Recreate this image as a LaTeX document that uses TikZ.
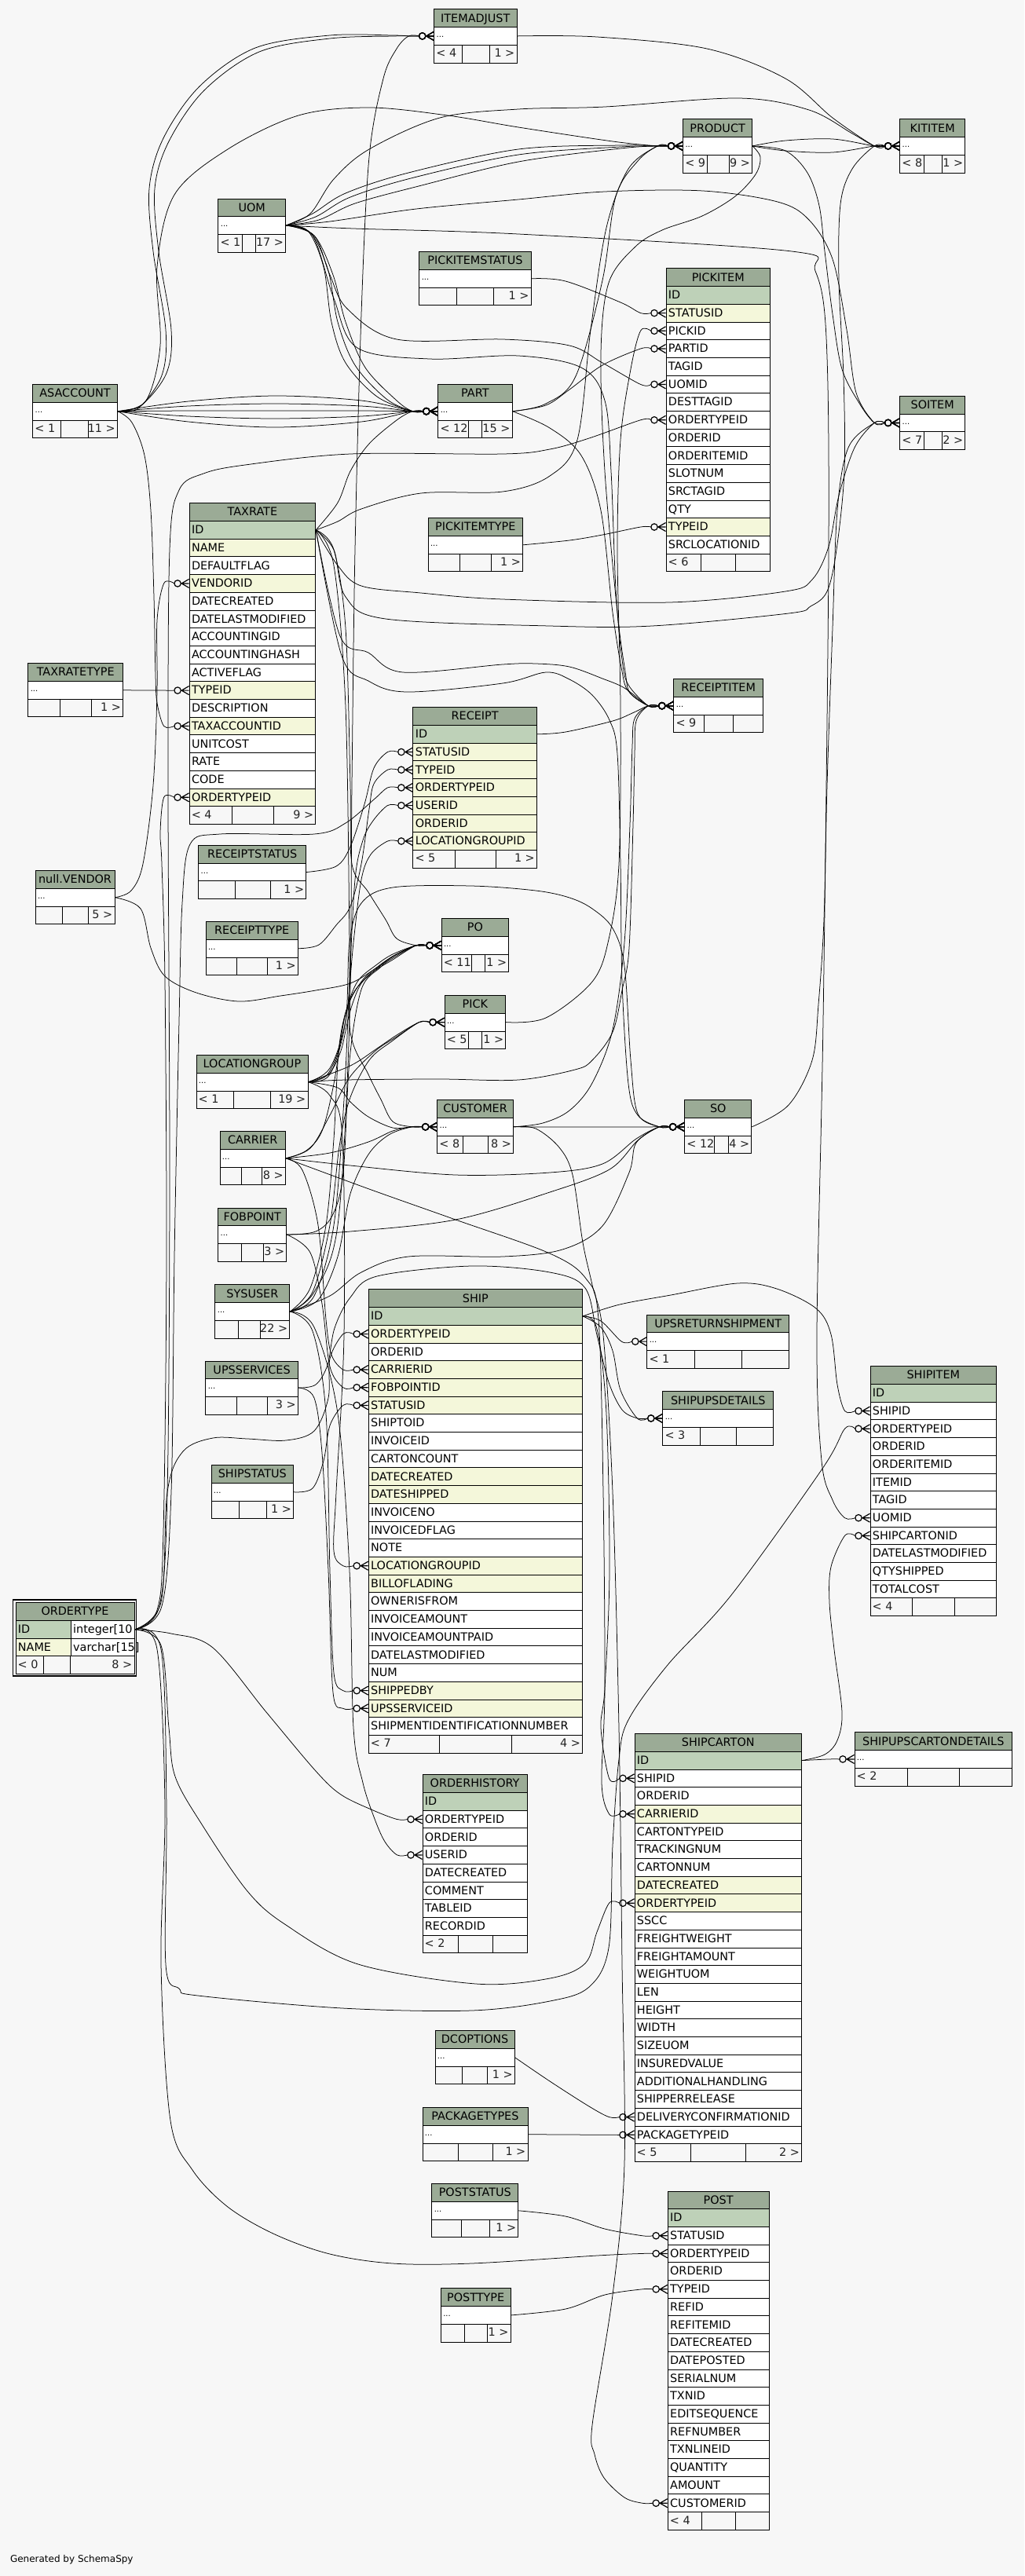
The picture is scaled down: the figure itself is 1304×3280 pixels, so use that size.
\documentclass[tikz,border=0pt]{standalone}
\usepackage{fontspec}
\setmainfont{DejaVu Sans}
\definecolor{bgc}{HTML}{F7F7F7}
\definecolor{hdc}{HTML}{9BAB96}
\definecolor{pkc}{HTML}{BED1B8}
\definecolor{ixc}{HTML}{F4F7DA}
\definecolor{ftc}{HTML}{222222}
\pgfdeclarelayer{bgl}
\pgfdeclarelayer{edl}
\pgfsetlayers{bgl,edl,main}
\newcommand\rf{\fontsize{14.4}{16}\selectfont}
\newcommand\dts{\raisebox{3pt}{\fontsize{10}{10}\selectfont...}}
\tikzset{
  cellbox/.style={draw=black, line width=0.9pt, inner xsep=3pt, inner ysep=0pt, minimum height=22.7pt, text height=11.6pt, text depth=1.9pt, anchor=north west, align=left, font=\rf},
  hdrbox/.style={cellbox, fill=hdc, align=center},
  edge/.style={draw=black, line width=0.75pt},
  mk/.style={draw=black, line width=1.2pt},
}
\newcommand\foot[8]{%
  \node[draw=black, line width=0.9pt, fill=bgc, anchor=north west, minimum width=#4pt, minimum height=22.7pt, inner sep=0pt] (#1-foot) at (#2,#3) {};
  \draw[line width=0.9pt] (#5,#3) -- (#5,#3+22.7) (#6,#3) -- (#6,#3+22.7);
  \node[anchor=base west, font=\rf, text=ftc, inner sep=0pt] (#1-fl) at (#2+3,#3+16) {#7};
  \node[anchor=base east, font=\rf, text=ftc, inner sep=0pt] (#1-fr) at (#2+#4-2,#3+16) {#8};
}
\newcommand\tbl[6]{%
  \pgfmathsetmacro\tw{#4-6}%
  \node[hdrbox, text width=\tw pt] (#1) at (#2,#3) {#5};%
  \foreach \rn/\rc [count=\ri] in {#6}{%
    \node[cellbox, fill=\rc, text width=\tw pt] (#1-\rn) at (#2,#3+\ri*22.7) {\rn};%
  }%
}
\newcommand\stbl[9]{%
  \pgfmathsetmacro\tw{#4-6}%
  \node[hdrbox, text width=\tw pt] (#1) at (#2,#3) {#5};%
  \node[cellbox, fill=white, text width=\tw pt] (#1-dots) at (#2,#3+22.7) {\dts};%
  \foot{#1}{#2}{#3+45.4}{#4}{#6}{#7}{#8}{#9}%
}
\newcommand\crow[1]{%
  \draw[mk] ([xshift=-14.5pt]#1) circle[radius=4.2pt];
  \draw[mk] ([xshift=-9.5pt]#1) -- ([yshift=5.5pt]#1) ([xshift=-9.5pt]#1) -- (#1) ([xshift=-9.5pt]#1) -- ([yshift=-5.5pt]#1);}
\newcommand\rel[3]{%
  \draw[edge] plot[smooth, tension=0.55] coordinates {(#1) #2 ([xshift=-32pt]#3) ([xshift=-18.7pt]#3)};
  \crow{#3}}
\begin{document}
\begin{tikzpicture}[x=1pt,y=-1pt]
\begin{pgfonlayer}{bgl}
\fill[bgc] (0,0) rectangle (1304,3280);
\end{pgfonlayer}
\useasboundingbox (0,0) rectangle (1304,3280);

% ---------------- tables ----------------
\stbl{ITEMADJUST}{552.2}{11.4}{105.3}{ITEMADJUST}{588.4}{623.3}{< 4}{1 >}
\stbl{PRODUCT}{869.1}{151.4}{88.1}{PRODUCT}{900.5}{928.4}{< 9}{9 >}
\stbl{KITITEM}{1145.2}{151.4}{83.1}{KITITEM}{1176.2}{1199.5}{< 8}{1 >}
\stbl{UOM}{277.4}{252.5}{85.8}{UOM}{308.5}{325.4}{< 1}{17 >}
\stbl{PICKITEMSTATUS}{533.3}{320.3}{142.3}{PICKITEMSTATUS}{581.3}{628.4}{}{1 >}
\stbl{ASACCOUNT}{41.2}{489.2}{107.8}{ASACCOUNT}{77.9}{112.4}{< 1}{11 >}
\stbl{PART}{557.3}{489.2}{94.3}{PART}{596.8}{613.7}{< 12}{15 >}
\stbl{SOITEM}{1145.2}{503.9}{83.1}{SOITEM}{1176.2}{1199.5}{< 7}{2 >}
\stbl{PICKITEMTYPE}{544.6}{659.3}{120.5}{PICKITEMTYPE}{585.2}{625.4}{}{1 >}
\stbl{TAXRATETYPE}{35.3}{844.3}{120.9}{TAXRATETYPE}{76.3}{116.5}{}{1 >}
\stbl{RECEIPTITEM}{857.3}{864.2}{113.9}{RECEIPTITEM}{896.6}{933.1}{< 9}{}
\stbl{RECEIPTSTATUS}{252.2}{1076}{137.1}{RECEIPTSTATUS}{299.5}{344.6}{}{1 >}
\stbl{VENDOR}{44.6}{1108.2}{100.9}{null.VENDOR}{79.5}{112.5}{}{5 >}
\stbl{RECEIPTTYPE}{261.6}{1173.2}{117.4}{RECEIPTTYPE}{301.3}{340.6}{}{1 >}
\stbl{PO}{561.6}{1169.3}{85.7}{PO}{600.9}{617.4}{< 11}{1 >}
\stbl{PICK}{565.6}{1267.1}{77.7}{PICK}{596}{613.4}{< 5}{1 >}
\stbl{LOCATIONGROUP}{249.5}{1343.2}{142}{LOCATIONGROUP}{297.3}{344.6}{< 1}{19 >}
\stbl{CUSTOMER}{556.2}{1400.3}{96.9}{CUSTOMER}{589.7}{621.4}{< 8}{8 >}
\stbl{SO}{871.2}{1400.3}{85.2}{SO}{909.3}{927.6}{< 12}{4 >}
\stbl{CARRIER}{279.5}{1440.3}{83.4}{CARRIER}{307.6}{333.5}{}{8 >}
\stbl{FOBPOINT}{277.2}{1537.5}{87.1}{FOBPOINT}{307.6}{335.3}{}{3 >}
\stbl{SYSUSER}{273.4}{1635.4}{95}{SYSUSER}{303.4}{331.5}{}{22 >}
\stbl{UPSSERVICES}{261.3}{1732.5}{117.7}{UPSSERVICES}{301.5}{340.7}{}{3 >}
\stbl{SHIPSTATUS}{268.5}{1865.3}{104.7}{SHIPSTATUS}{304.4}{339.3}{}{1 >}
\stbl{UPSRETURNSHIPMENT}{823.3}{1673.6}{181}{UPSRETURNSHIPMENT}{884.5}{944.2}{< 1}{}
\stbl{SHIPUPSDETAILS}{843.3}{1771.4}{141}{SHIPUPSDETAILS}{891.4}{937.7}{< 3}{}
\stbl{SHIPUPSCARTONDETAILS}{1087.5}{2205.4}{200.7}{SHIPUPSCARTONDETAILS}{1155.3}{1221.6}{< 2}{}
\stbl{DCOPTIONS}{553.5}{2585.3}{101.3}{DCOPTIONS}{588.4}{620.9}{}{1 >}
\stbl{PACKAGETYPES}{537.5}{2683.2}{134}{PACKAGETYPES}{583.3}{627.7}{}{1 >}
\stbl{POSTSTATUS}{549.3}{2780.3}{110.1}{POSTSTATUS}{587.4}{623.7}{}{1 >}
\stbl{POSTTYPE}{560.8}{2913.4}{88.8}{POSTTYPE}{591.4}{620.2}{}{1 >}

\tbl{PICKITEM}{847.5}{341.4}{132.6}{PICKITEM}{ID/pkc,STATUSID/ixc,PICKID/white,PARTID/white,TAGID/white,UOMID/white,DESTTAGID/white,ORDERTYPEID/white,ORDERID/white,ORDERITEMID/white,SLOTNUM/white,SRCTAGID/white,QTY/white,TYPEID/ixc,SRCLOCATIONID/white}
\foot{PICKITEM}{847.5}{341.4+16*22.7}{132.6}{892.4}{936.5}{< 6}{}

\tbl{TAXRATE}{240.6}{640.3}{160.7}{TAXRATE}{ID/pkc,NAME/ixc,DEFAULTFLAG/white,VENDORID/ixc,DATECREATED/white,DATELASTMODIFIED/white,ACCOUNTINGID/white,ACCOUNTINGHASH/white,ACTIVEFLAG/white,TYPEID/ixc,DESCRIPTION/white,TAXACCOUNTID/ixc,UNITCOST/white,RATE/white,CODE/white,ORDERTYPEID/ixc}
\foot{TAXRATE}{240.6}{640.3+17*22.7}{160.7}{295.5}{348.6}{< 4}{9 >}

\tbl{RECEIPT}{525.4}{900.3}{157.6}{RECEIPT}{ID/pkc,STATUSID/ixc,TYPEID/ixc,ORDERTYPEID/ixc,USERID/ixc,ORDERID/ixc,LOCATIONGROUPID/ixc}
\foot{RECEIPT}{525.4}{900.3+8*22.7}{157.6}{579}{631.2}{< 5}{1 >}

\tbl{SHIP}{468.7}{1641.4}{272.4}{SHIP}{ID/pkc,ORDERTYPEID/ixc,ORDERID/white,CARRIERID/ixc,FOBPOINTID/ixc,STATUSID/ixc,SHIPTOID/white,INVOICEID/white,CARTONCOUNT/white,DATECREATED/ixc,DATESHIPPED/ixc,INVOICENO/white,INVOICEDFLAG/white,NOTE/white,LOCATIONGROUPID/ixc,BILLOFLADING/ixc,OWNERISFROM/white,INVOICEAMOUNT/white,INVOICEAMOUNTPAID/white,DATELASTMODIFIED/white,NUM/white,SHIPPEDBY/ixc,UPSSERVICEID/ixc,SHIPMENTIDENTIFICATIONNUMBER/white}
\foot{SHIP}{468.7}{1641.4+25*22.7}{272.4}{559.8}{651.4}{< 7}{4 >}

\tbl{SHIPITEM}{1107.5}{1739.3}{160.7}{SHIPITEM}{ID/pkc,SHIPID/white,ORDERTYPEID/white,ORDERID/white,ORDERITEMID/white,ITEMID/white,TAGID/white,UOMID/white,SHIPCARTONID/white,DATELASTMODIFIED/white,QTYSHIPPED/white,TOTALCOST/white}
\foot{SHIPITEM}{1107.5}{1739.3+13*22.7}{160.7}{1161.1}{1215.4}{< 4}{}

\tbl{ORDERHISTORY}{537.5}{2259.3}{133.3}{ORDERHISTORY}{ID/pkc,ORDERTYPEID/white,ORDERID/white,USERID/white,DATECREATED/white,COMMENT/white,TABLEID/white,RECORDID/white}
\foot{ORDERHISTORY}{537.5}{2259.3+9*22.7}{133.3}{583.6}{627.2}{< 2}{}

\tbl{SHIPCARTON}{807.5}{2207.1}{212.6}{SHIPCARTON}{ID/pkc,SHIPID/white,ORDERID/white,CARRIERID/ixc,CARTONTYPEID/white,TRACKINGNUM/white,CARTONNUM/white,DATECREATED/ixc,ORDERTYPEID/ixc,SSCC/white,FREIGHTWEIGHT/white,FREIGHTAMOUNT/white,WEIGHTUOM/white,LEN/white,HEIGHT/white,WIDTH/white,SIZEUOM/white,INSUREDVALUE/white,ADDITIONALHANDLING/white,SHIPPERRELEASE/white,DELIVERYCONFIRMATIONID/white,PACKAGETYPEID/white}
\foot{SHIPCARTON}{807.5}{2207.1+23*22.7}{212.6}{879.6}{949.4}{< 5}{2 >}

\tbl{POST}{849.7}{2789.5}{129.1}{POST}{ID/pkc,STATUSID/white,ORDERTYPEID/white,ORDERID/white,TYPEID/white,REFID/white,REFITEMID/white,DATECREATED/white,DATEPOSTED/white,SERIALNUM/white,TXNID/white,EDITSEQUENCE/white,REFNUMBER/white,TXNLINEID/white,QUANTITY/white,AMOUNT/white,CUSTOMERID/white}
\foot{POST}{849.7}{2789.5+18*22.7}{129.1}{893.5}{936.7}{< 4}{}

% ORDERTYPE (focus table, double border)
\draw[line width=1.8pt] (16.5,2037.3) rectangle (173.5,2134.2);
\node[hdrbox, text width=145pt] (OT) at (19.5,2040.3) {ORDERTYPE};
\node[cellbox, fill=pkc, text width=64.2pt] (OT-ID) at (19.5,2063) {ID};
\node[cellbox, fill=white, text width=74.8pt] (OT-IDT) at (89.7,2063) {integer[10};
\node[cellbox, fill=ixc, text width=64.2pt] (OT-NAME) at (19.5,2085.7) {NAME};
\node[cellbox, fill=white, text width=74.8pt] (OT-NAMET) at (89.7,2085.7) {varchar[15]};
\foot{OT}{19.5}{2108.4}{151}{55.7}{89.7}{< 0}{8 >}

\node[anchor=base west, font=\fontsize{12}{13}\selectfont, inner sep=0pt] (gen) at (12.8,3262) {Generated by SchemaSpy};

% ---------------- relationships ----------------
\begin{pgfonlayer}{edl}
% ITEMADJUST / KITITEM
\rel{ITEMADJUST-dots.east}{(760,47) (900,62) (1000,100) (1060,150)}{KITITEM-dots.west}
\rel{ASACCOUNT-dots.east}{(180,516) (212,475) (218,420) (202,320) (197,240) (215,180) (260,115) (330,66) (420,49) (500,46)}{ITEMADJUST-dots.west}
\rel{ASACCOUNT-dots.east}{(176,520) (206,478) (211,420) (195,320) (190,240) (208,176) (254,110) (325,61) (420,45) (500,45)}{ITEMADJUST-dots.west}
\rel{SYSUSER-dots.east}{(400,1645) (430,1560) (445,1300) (448,1000) (452,700) (460,400) (470,200) (488,100) (505,62)}{ITEMADJUST-dots.west}
% PRODUCT
\rel{ASACCOUNT-dots.east}{(186,510) (204,440) (200,340) (222,248) (290,190) (380,147) (470,137) (570,147) (660,162) (780,180)}{PRODUCT-dots.west}
\rel{UOM-dots.east}{(398,272) (440,246) (520,220) (660,190) (790,185)}{PRODUCT-dots.west}
\rel{UOM-dots.east}{(402,276) (446,251) (527,226) (660,197) (790,187)}{PRODUCT-dots.west}
\rel{UOM-dots.east}{(406,280) (452,259) (533,237) (660,206) (790,189)}{PRODUCT-dots.west}
\rel{PART-dots.east}{(695,514) (733,479) (767,357) (784,250) (812,205)}{PRODUCT-dots.west}
\rel{TAXRATE-ID.east}{(430,664) (460,648) (536,628) (640,626) (700,606) (735,560) (752,420) (772,290) (800,215)}{PRODUCT-dots.west}
% KITITEM
\rel{UOM-dots.east}{(395,272) (425,228) (470,190) (560,150) (660,139) (770,136) (940,125) (1030,140) (1085,170)}{KITITEM-dots.west}
\rel{PRODUCT-dots.east}{(1000,179) (1060,177)}{KITITEM-dots.west}
\rel{PRODUCT-dots.east}{(1000,192) (1060,194)}{KITITEM-dots.west}
\rel{TAXRATE-ID.east}{(425,700) (440,760) (491,788) (700,797) (830,797) (1004,781) (1032,772) (1053,753) (1065,700) (1075,600) (1074,480) (1068,357) (1070,260) (1085,215)}{KITITEM-dots.west}
% PICKITEM
\rel{PICKITEMSTATUS-dots.east}{(720,358) (790,385)}{PICKITEM-STATUSID.west}
\rel{PICK-dots.east}{(695,1296) (754,1250) (775,1196) (788,1100) (790,900) (786,700) (790,560) (803,470)}{PICKITEM-PICKID.west}
\rel{PART-dots.east}{(695,516) (725,496) (767,465)}{PICKITEM-PARTID.west}
\rel{UOM-dots.east}{(400,300) (420,350) (442,393) (505,432) (640,432) (725,440) (767,462)}{PICKITEM-UOMID.west}
\rel{OT-IDT.east}{(203,2045) (213,1900) (216,1500) (214,1000) (216,700) (228,624) (259,603) (312,592) (446,578) (640,578) (700,572) (750,558)}{PICKITEM-ORDERTYPEID.west}
\rel{PICKITEMTYPE-dots.east}{(725,688) (767,681)}{PICKITEM-TYPEID.west}
% SOITEM
\rel{UOM-dots.east}{(420,282) (530,266) (660,254) (770,244) (895,243) (990,257) (1030,280) (1060,330) (1078,420) (1090,500)}{SOITEM-dots.west}
\rel{PRODUCT-dots.east}{(1000,192) (1028,220) (1043,262) (1050,320) (1060,400) (1072,470) (1095,515)}{SOITEM-dots.west}
\rel{TAXRATE-ID.east}{(430,720) (460,746) (536,755) (640,763) (852,767) (1000,753) (1034,738) (1055,696) (1068,631) (1088,570)}{SOITEM-dots.west}
\rel{SO-dots.east}{(1004,1407) (1034,1350) (1042,1279) (1049,1171) (1053,1000) (1060,800) (1066,650) (1080,570)}{SOITEM-dots.west}
% PART
\rel{ASACCOUNT-dots.east}{(240,511) (350,504) (460,510)}{PART-dots.west}
\rel{ASACCOUNT-dots.east}{(240,517) (350,514) (460,517)}{PART-dots.west}
\rel{ASACCOUNT-dots.east}{(240,523) (350,523) (460,523)}{PART-dots.west}
\rel{ASACCOUNT-dots.east}{(240,530) (350,533) (460,530)}{PART-dots.west}
\rel{ASACCOUNT-dots.east}{(240,537) (350,544) (460,537)}{PART-dots.west}
\rel{UOM-dots.east}{(392,294) (412,340) (422,410) (440,462) (480,505)}{PART-dots.west}
\rel{UOM-dots.east}{(396,297) (418,345) (430,410) (452,465) (492,508)}{PART-dots.west}
\rel{UOM-dots.east}{(400,300) (424,350) (440,410) (465,468) (505,510)}{PART-dots.west}
\rel{TAXRATE-ID.east}{(430,640) (446,600) (470,565) (505,535)}{PART-dots.west}
% TAXRATE
\rel{ASACCOUNT-dots.east}{(168,538) (184,580) (192,650) (196,760) (198,860) (200,895)}{TAXRATE-TAXACCOUNTID.west}
\rel{VENDOR-dots.east}{(167,1134) (182,1100) (195,1000) (200,880) (200,790)}{TAXRATE-VENDORID.west}
\rel{TAXRATETYPE-dots.east}{}{TAXRATE-TYPEID.west}
\rel{OT-IDT.east}{(200,2050) (208,1950) (212,1600) (210,1250) (206,1100) (204,1060)}{TAXRATE-ORDERTYPEID.west}
% RECEIPT
\rel{RECEIPTSTATUS-dots.east}{(428,1103) (446,1078) (464,1024) (476,978)}{RECEIPT-STATUSID.west}
\rel{RECEIPTTYPE-dots.east}{(406,1203) (428,1178) (446,1154) (460,1100) (470,1030) (476,998)}{RECEIPT-TYPEID.west}
\rel{OT-IDT.east}{(206,2045) (218,1900) (222,1600) (228,1300) (232,1150) (242,1075) (280,1062) (400,1062) (440,1048) (476,1018)}{RECEIPT-ORDERTYPEID.west}
\rel{SYSUSER-dots.east}{(400,1650) (425,1560) (438,1400) (445,1250) (452,1120) (462,1070) (475,1045)}{RECEIPT-USERID.west}
\rel{LOCATIONGROUP-dots.east}{(420,1360) (440,1300) (450,1200) (460,1120) (472,1088)}{RECEIPT-LOCATIONGROUPID.west}
% RECEIPTITEM
\rel{RECEIPT-ID.east}{(720,932) (780,918) (805,908)}{RECEIPTITEM-dots.west}
\rel{UOM-dots.east}{(398,300) (425,380) (455,443) (547,457) (660,453) (740,468) (770,510) (778,600) (784,750) (792,840) (800,872)}{RECEIPTITEM-dots.west}
\rel{TAXRATE-ID.east}{(433,810) (469,831) (513,856) (640,846) (682,845) (725,849) (767,864) (795,876)}{RECEIPTITEM-dots.west}
\rel{PART-dots.east}{(700,545) (740,580) (765,650) (780,780) (792,855) (800,880)}{RECEIPTITEM-dots.west}
\rel{PRODUCT-dots.east}{(968,200) (962,222) (936,250) (894,275) (843,293) (809,314) (775,360) (765,450) (770,600) (786,780) (796,855) (802,882)}{RECEIPTITEM-dots.west}
\rel{CUSTOMER-dots.east}{(691,1430) (725,1414) (754,1379) (780,1311) (795,1200) (802,1050) (805,950) (808,915)}{RECEIPTITEM-dots.west}
\rel{LOCATIONGROUP-dots.east}{(440,1375) (560,1374) (660,1375) (732,1362) (754,1350) (780,1314) (792,1261) (801,1207) (806,1050) (808,960) (810,918)}{RECEIPTITEM-dots.west}
% PO
\rel{TAXRATE-ID.east}{(425,700) (440,800) (446,1000) (448,1100) (469,1136) (491,1171) (505,1195)}{PO-dots.west}
\rel{VENDOR-dots.east}{(179,1157) (192,1207) (210,1243) (250,1264) (304,1275) (357,1268) (402,1261) (446,1252) (480,1232) (505,1215)}{PO-dots.west}
\rel{LOCATIONGROUP-dots.east}{(415,1370) (430,1340) (440,1290) (455,1250) (480,1228) (500,1215)}{PO-dots.west}
\rel{LOCATIONGROUP-dots.east}{(418,1368) (434,1338) (445,1290) (460,1252) (484,1230) (501,1217)}{PO-dots.west}
\rel{CARRIER-dots.east}{(390,1465) (410,1440) (425,1380) (440,1290) (460,1250) (482,1230) (500,1218)}{PO-dots.west}
\rel{FOBPOINT-dots.east}{(402,1568) (424,1546) (437,1493) (445,1350) (460,1260) (484,1232) (500,1220)}{PO-dots.west}
\rel{SYSUSER-dots.east}{(395,1640) (415,1560) (425,1450) (432,1330) (447,1270) (472,1240) (500,1222)}{PO-dots.west}
% PICK
\rel{LOCATIONGROUP-dots.east}{(446,1357) (480,1335) (505,1318)}{PICK-dots.west}
\rel{SYSUSER-dots.east}{(398,1645) (420,1560) (432,1460) (445,1400) (470,1350) (500,1325)}{PICK-dots.west}
\rel{CARRIER-dots.east}{(395,1462) (420,1420) (445,1372) (478,1338) (505,1320)}{PICK-dots.west}
% CUSTOMER
\rel{TAXRATE-ID.east}{(425,720) (440,900) (445,1200) (446,1314) (469,1368) (485,1400) (500,1428)}{CUSTOMER-dots.west}
\rel{CARRIER-dots.east}{(420,1468) (469,1454) (500,1440)}{CUSTOMER-dots.west}
\rel{LOCATIONGROUP-dots.east}{(430,1385) (446,1403) (469,1422) (500,1436)}{CUSTOMER-dots.west}
\rel{SYSUSER-dots.east}{(405,1655) (430,1600) (446,1520) (469,1470) (495,1445)}{CUSTOMER-dots.west}
% SO
\rel{CUSTOMER-dots.east}{(700,1435) (800,1435)}{SO-dots.west}
\rel{CARRIER-dots.east}{(446,1484) (580,1496) (700,1493) (767,1482) (810,1450)}{SO-dots.west}
\rel{FOBPOINT-dots.east}{(446,1568) (580,1553) (700,1518) (776,1489) (812,1452)}{SO-dots.west}
\rel{SYSUSER-dots.east}{(420,1650) (460,1620) (520,1600) (640,1600) (716,1591) (767,1561) (801,1493) (810,1455)}{SO-dots.west}
\rel{TAXRATE-ID.east}{(435,835) (469,867) (518,881) (640,870) (695,856) (725,865) (754,885) (776,917) (786,960) (790,1100) (792,1250) (800,1380) (812,1420)}{SO-dots.west}
\rel{LOCATIONGROUP-dots.east}{(420,1368) (440,1300) (445,1200) (460,1150) (500,1130) (600,1128) (682,1134) (725,1143) (754,1157) (780,1182) (795,1230) (803,1350) (812,1418)}{SO-dots.west}
% SHIP
\rel{OT-IDT.east}{(205,2040) (213,1900) (233,1848) (271,1831) (315,1832) (364,1834) (400,1822) (418,1780) (420,1730)}{SHIP-ORDERTYPEID.west}
\rel{CARRIER-dots.east}{(385,1490) (405,1560) (415,1680) (422,1725)}{SHIP-CARRIERID.west}
\rel{FOBPOINT-dots.east}{(395,1595) (410,1660) (420,1740)}{SHIP-FOBPOINTID.west}
\rel{SHIPSTATUS-dots.east}{(398,1895) (412,1860) (420,1815)}{SHIP-STATUSID.west}
\rel{LOCATIONGROUP-dots.east}{(420,1395) (436,1450) (438,1700) (428,1900) (425,1975)}{SHIP-LOCATIONGROUPID.west}
\rel{SYSUSER-dots.east}{(398,1695) (415,1800) (420,2000) (425,2130)}{SHIP-SHIPPEDBY.west}
\rel{UPSSERVICES-dots.east}{(400,1780) (410,1850) (418,2000) (424,2155)}{SHIP-UPSSERVICEID.west}
% SHIP children
\rel{SHIP-ID.east}{(765,1682)}{UPSRETURNSHIPMENT-dots.west}
\rel{SHIP-ID.east}{(765,1690) (780,1720) (790,1770)}{SHIPUPSDETAILS-dots.west}
\rel{UPSSERVICES-dots.east}{(402,1763) (417,1738) (426,1691) (446,1652) (480,1625) (600,1612) (700,1620) (745,1640) (760,1700) (775,1760) (792,1795)}{SHIPUPSDETAILS-dots.west}
\rel{SHIP-ID.east}{(789,1661) (854,1649) (939,1634) (989,1641) (1039,1666) (1058,1699) (1066,1763)}{SHIPITEM-SHIPID.west}
\rel{SHIP-ID.east}{(760,1692) (772,1800) (776,2000) (770,2150) (765,2200)}{SHIPCARTON-SHIPID.west}
\rel{CARRIER-dots.east}{(470,1514) (580,1553) (700,1596) (746,1628) (762,1680) (768,1900) (770,2150) (766,2270)}{SHIPCARTON-CARRIERID.west}
\rel{OT-IDT.east}{(205,2095) (215,2200) (223,2262) (257,2323) (315,2408) (364,2451) (456,2501) (606,2526) (700,2519) (745,2500) (760,2460)}{SHIPCARTON-ORDERTYPEID.west}
\rel{OT-IDT.east}{(205,2100) (212,2300) (211,2501) (228,2532) (252,2541) (436,2557) (600,2560) (700,2548) (750,2530) (775,2480) (780,2350) (788,2240) (800,2190) (850,2120) (931,2031) (1047,1870)}{SHIPITEM-ORDERTYPEID.west}
\rel{UOM-dots.east}{(450,291) (660,298) (1008,320) (1038,345) (1052,430) (1055,700) (1048,1300) (1040,1700) (1046,1860) (1060,1910)}{SHIPITEM-UOMID.west}
\rel{SHIPCARTON-ID.east}{(1050,2234) (1066,2216) (1072,2180) (1062,2100) (1056,2040) (1058,1995)}{SHIPITEM-SHIPCARTONID.west}
\rel{SHIPCARTON-ID.east}{}{SHIPUPSCARTONDETAILS-dots.west}
% ORDERHISTORY
\rel{OT-IDT.east}{(218,2080) (271,2098) (339,2180) (402,2255) (434,2285) (475,2305)}{ORDERHISTORY-ORDERTYPEID.west}
\rel{SYSUSER-dots.east}{(400,1690) (430,1800) (445,2000) (450,2200) (462,2270) (477,2316) (490,2345)}{ORDERHISTORY-USERID.west}
% SHIPCARTON small parents
\rel{DCOPTIONS-dots.east}{(700,2650) (750,2682)}{SHIPCARTON-DELIVERYCONFIRMATIONID.west}
\rel{PACKAGETYPES-dots.east}{}{SHIPCARTON-PACKAGETYPEID.west}
% POST
\rel{POSTSTATUS-dots.east}{(720,2822) (770,2838)}{POST-STATUSID.west}
\rel{POSTTYPE-dots.east}{(720,2940) (770,2922)}{POST-TYPEID.west}
\rel{OT-IDT.east}{(200,2100) (210,2300) (205,2500) (217,2700) (245,2763) (290,2810) (350,2845) (420,2870) (500,2882) (600,2882) (760,2872)}{POST-ORDERTYPEID.west}
\rel{CUSTOMER-dots.east}{(682,1437) (712,1461) (729,1496) (742,1582) (754,1636) (768,1700) (780,1900) (788,2200) (792,2500) (795,2755) (780,2922) (754,3088) (757,3125) (769,3155) (795,3180)}{POST-CUSTOMERID.west}
\end{pgfonlayer}
\end{tikzpicture}
\end{document}
